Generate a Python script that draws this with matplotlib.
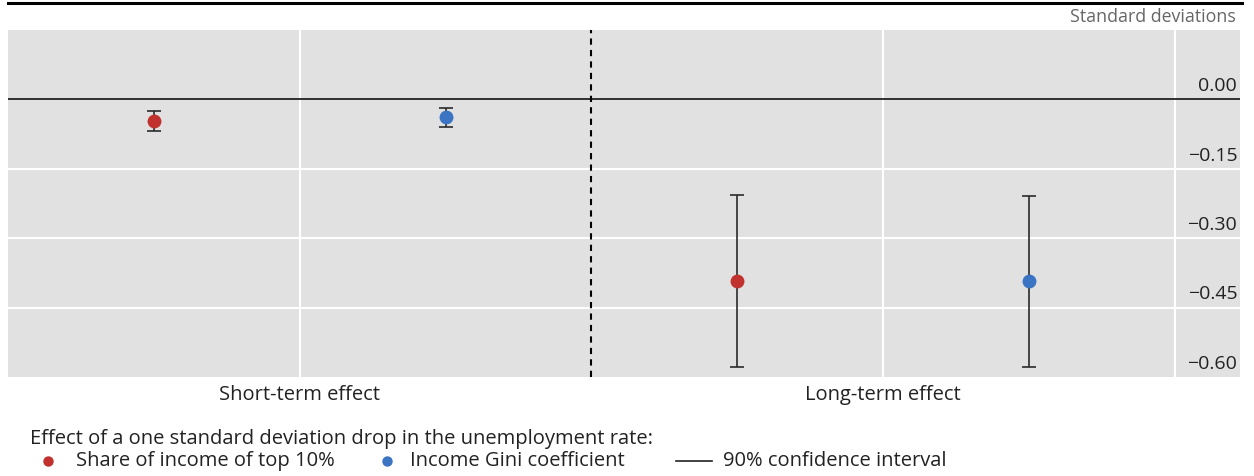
import numpy as np
import matplotlib.pyplot as plt
from matplotlib.lines import Line2D

plt.rcParams['font.family'] = ['Open Sans', 'DejaVu Sans']

# point estimates and 90% confidence bands (standard deviations)
groups = ['Short-term effect', 'Long-term effect']
series = ['Share of income of top 10%', 'Income Gini coefficient']
colors = ['#c1322f', '#3a74c2']
est = [[-0.047, -0.393],   # top 10% share
       [-0.039, -0.393]]   # Gini
lo = [[-0.069, -0.578],
      [-0.060, -0.578]]
hi = [[-0.024, -0.207],
      [-0.019, -0.209]]
yticks = [0.00, -0.15, -0.30, -0.45, -0.60]

W, H = 1254, 476
fig = plt.figure(figsize=(W / 100, H / 100), dpi=100)
ax = fig.add_axes([8 / W, 1 - 377 / H, (1240 - 8) / W, (377 - 30) / H])
ax.set_facecolor('#e1e1e1')
xmax = (1240 - 8) / (1175 - 8)
ax.set_xlim(0, xmax)
ax.set_ylim(-0.60, 0.15)

# grid
for gx in [0.25, 0.75, 1.0]:
    ax.axvline(gx, color='white', lw=1.5, zorder=1)
for gy in yticks[1:4]:
    ax.axhline(gy, color='white', lw=1.5, zorder=1)
ax.axhline(0, color='#222222', lw=1.3, zorder=2)
ax.axvline(0.5, color='black', lw=1.5, ls=(0, (3, 2.5)), zorder=2)

# y tick labels sit just above their gridlines, inside the panel
for gy in yticks:
    ax.annotate(f'{gy:.2f}'.replace('-', '\u2212'), xy=(xmax, gy), xytext=(-2, 3),
                textcoords='offset points', ha='right', va='bottom',
                fontsize=14, color='#222222')

for i, (name, c) in enumerate(zip(series, colors)):
    for j in range(len(groups)):
        x = j * 0.5 + 0.125 + i * 0.25
        ax.errorbar(x, est[i][j],
                    yerr=[[est[i][j] - lo[i][j]], [hi[i][j] - est[i][j]]],
                    fmt='none', ecolor='#2b2b2b', elinewidth=1.2,
                    capsize=5, capthick=1.2, zorder=3)
        ax.plot(x, est[i][j], 'o', color=c, ms=10, mec='none', zorder=4)

for spine in ax.spines.values():
    spine.set_visible(False)
ax.set_xticks([])
ax.set_yticks([])

# category labels
for j, g in enumerate(groups):
    fig.text((8 + (1175 - 8) * (0.25 + 0.5 * j)) / W, 1 - 395 / H, g,
             ha='center', va='center', fontsize=14.5, color='#222222')

# top rule and unit
fig.add_artist(Line2D([8 / W, 1242 / W], [1 - 3 / H, 1 - 3 / H], color='black', lw=2.2))
fig.text(1236 / W, 1 - 17 / H, 'Standard deviations', ha='right', va='center',
         fontsize=12.8, color='#666666')

# legend
fig.text(30 / W, 1 - 439 / H,
         'Effect of a one standard deviation drop in the unemployment rate:',
         ha='left', va='center', fontsize=14.5, color='#222222')
ly = 1 - 461 / H
fig.add_artist(Line2D([48 / W], [ly], marker='o', ms=7.5, color=colors[0], mec='none'))
fig.text(76 / W, ly, series[0], ha='left', va='center', fontsize=14.5, color='#222222')
fig.add_artist(Line2D([387 / W], [ly], marker='o', ms=7.5, color=colors[1], mec='none'))
fig.text(410 / W, ly, series[1], ha='left', va='center', fontsize=14.5, color='#222222')
fig.add_artist(Line2D([676 / W, 712 / W], [ly, ly], color='#222222', lw=1.2))
fig.text(723 / W, ly, '90% confidence interval', ha='left', va='center',
         fontsize=14.5, color='#222222')

fig.savefig('out.png', dpi=100)
